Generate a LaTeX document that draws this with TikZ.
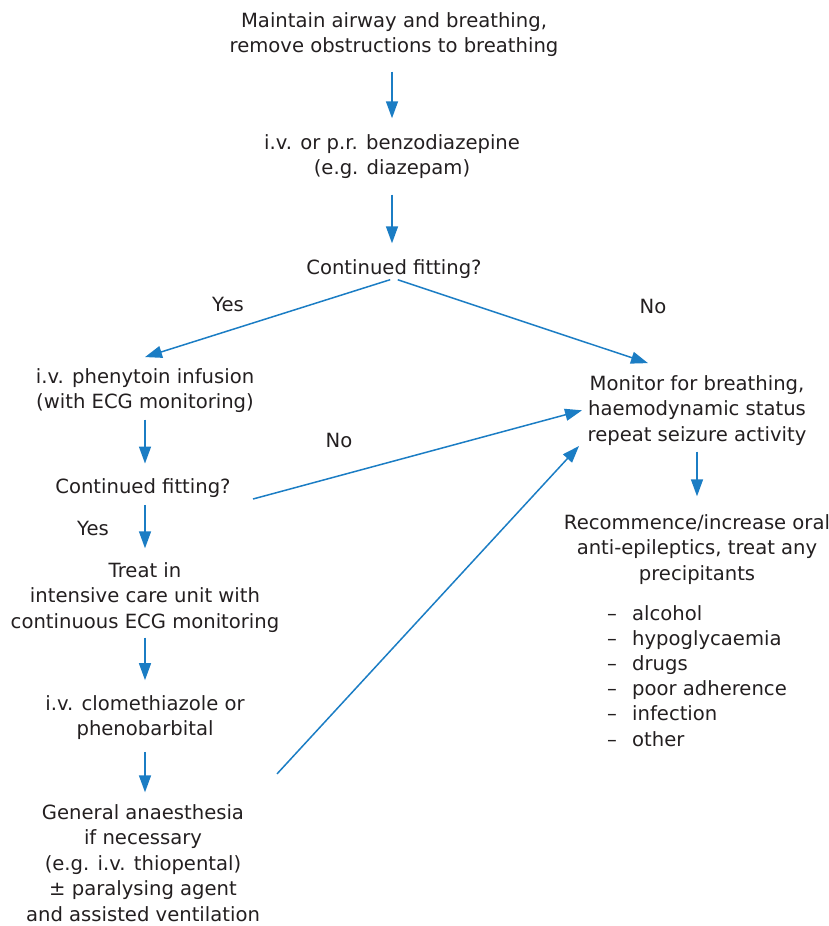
\documentclass[tikz,border=0pt]{standalone}
\usepackage{fontspec}
\setmainfont{DejaVu Sans}
\usetikzlibrary{arrows.meta, positioning, calc}
\definecolor{cblue}{HTML}{1B7DC4}
\definecolor{ctext}{HTML}{231F20}
\tikzset{
  every picture/.style={x=1pt, y=1pt},
  txt/.style={align=center, inner sep=0pt, text=ctext, font=\fontsize{19.6}{25.5}\selectfont},
  item/.style={inner sep=0pt, text=ctext, font=\fontsize{19.6}{25.5}\selectfont, anchor=base west},
  arrow/.style={-{Triangle[length=17pt, width=12pt]}, draw=cblue, line width=1.5pt},
  lbl/.style={inner sep=0pt, text=ctext, font=\fontsize{19.6}{25.5}\selectfont},
}
\begin{document}
\begin{tikzpicture}
  \useasboundingbox (0,0) rectangle (829,-926);
  % Top: first steps
  \node[txt] (airway) at (394,-34.5) {Maintain airway and breathing,\\remove obstructions to breathing};
  \node[txt] (benzo) at (392,-156.5) {i.v. or p.r. benzodiazepine\\(e.g. diazepam)};
  \node[txt] (fit1) at (394,-268.8) {Continued fitting?};
  \draw[arrow, shorten <=14.7pt, shorten >=15.8pt] (benzo.north |- airway.south) -- (benzo.north);
  \draw[arrow, shorten <=15.7pt, shorten >=15.8pt] (benzo.south) -- (benzo.south |- fit1.north);
  % Left: still fitting
  \node[txt] (phen) at (145,-390.5) {i.v. phenytoin infusion\\(with ECG monitoring)};
  \node[txt] (fit2) at (143,-488) {Continued fitting?};
  \node[txt] (icu) at (145,-597.3) {Treat in\\intensive care unit with\\continuous ECG monitoring};
  \node[txt] (clom) at (145,-717.4) {i.v. clomethiazole or\\phenobarbital};
  \node[txt] (ga) at (143,-862.9) {General anaesthesia\\if necessary\\(e.g. i.v. thiopental)\\\char"00B1{} paralysing agent\\and assisted ventilation};
  \draw[arrow, shorten <=6.7pt, shorten >=14.8pt] (phen.south) -- (phen.south |- fit2.north);
  \draw[arrow, shorten <=7.2pt, shorten >=13.8pt] (icu.north |- fit2.south) -- (icu.north);
  \draw[arrow, shorten <=5.2pt, shorten >=14.8pt] (icu.south) -- (clom.north);
  \draw[arrow, shorten <=12pt, shorten >=11.8pt] (clom.south) -- (clom.south |- ga.north);
  % Right: fitting stopped
  \node[txt] (monitor) at (697,-410.3) {Monitor for breathing,\\haemodynamic status\\repeat seizure activity};
  \node[txt] (recomm) at (697,-549.3) {Recommence/increase oral\\anti-epileptics, treat any\\precipitants};
  \draw[arrow, shorten <=6.2pt, shorten >=17.8pt] (monitor.south) -- (recomm.north);
  \foreach \w [count=\i] in {alcohol, hypoglycaemia, drugs, poor adherence, infection, other}{
    \node[item] (dash\i) at (607,-620-25.2*\i+25.2) {\char"2013};
    \node[item] (cause\i) at (632,-620-25.2*\i+25.2) {\w};
  }
  % Branches
  \draw[arrow, shorten <=4pt] (fit1.south) -- ($(phen.north)+(0,11)$);
  \draw[arrow, shorten <=4pt] (fit1.south) -- ($(monitor.north)+(-49,12)$);
  \node[lbl] (yes1) at (228,-304) {Yes};
  \node[lbl] (no1) at (653,-306) {No};
  \draw[arrow] ($(fit2.center)+(110,-11)$) -- ($(monitor.center)+(-115,0)$);
  \node[lbl] (no2) at (339,-440) {No};
  \node[lbl] (yes2) at (93,-528) {Yes};
  \draw[arrow] ($(ga.center)+(134,89)$) -- ($(monitor.center)+(-118,-35.7)$);
\end{tikzpicture}
\end{document}
